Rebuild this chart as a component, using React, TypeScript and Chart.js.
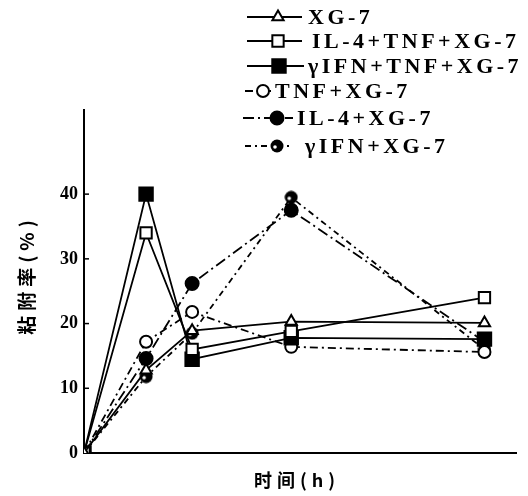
import React, { useEffect, useRef } from "react";
import { Chart, registerables } from "chart.js";
import { drawPoint } from "chart.js/helpers";

Chart.register(...registerables);

// Sampling times (h) and adhesion rates (%) for each treatment group
const hours = [0, 0.62, 1.08, 2.07, 4];
const seriesNames = [
  "XG-7",
  "IL-4+TNF+XG-7",
  "γIFN+TNF+XG-7",
  "TNF+XG-7",
  "IL-4+XG-7",
  "γIFN+XG-7",
];
const xg7 = [0, 12.8, 18.9, 20.3, 20.1];
const il4TnfXg7 = [0, 34, 16, 18.8, 24];
const ifnTnfXg7 = [0, 40, 14.5, 17.8, 17.6];
const tnfXg7 = [0, 17.2, 21.8, 16.4, 15.6];
const il4Xg7 = [0, 14.6, 26.2, 37.5, 17.2];
const ifnXg7 = [0, 11.8, 18.5, 39.5, 16];
const yTicks = [0, 10, 20, 30, 40];
const yMax = 53;
const xMax = 4.32;

const INK = "#000";

// Circle marker with a small white notch, used for the γIFN+XG-7 group
function makeNotchedDot(): HTMLCanvasElement {
  const c = document.createElement("canvas");
  c.width = 14;
  c.height = 14;
  const g = c.getContext("2d")!;
  g.fillStyle = INK;
  g.beginPath();
  g.arc(7, 7, 6.5, 0, Math.PI * 2);
  g.fill();
  g.fillStyle = "#fff";
  g.beginPath();
  g.arc(5, 8, 1.8, 0, Math.PI * 2);
  g.fill();
  return c;
}

const toPoints = (vals: number[]) => vals.map((v, i) => ({ x: hours[i], y: v }));

// Legend row geometry: sample line span, marker x, text x, row y
const legendRows = [
  { y: 17, x0: 247, x1: 302, mx: 278, tx: 308 },
  { y: 41, x0: 247, x1: 302, mx: 278, tx: 312 },
  { y: 66, x0: 247, x1: 304, mx: 279, tx: 308 },
  { y: 91, x0: 245, x1: 273, mx: 263, tx: 275 },
  { y: 118, x0: 243, x1: 293, mx: 277, tx: 297 },
  { y: 146, x0: 245, x1: 292, mx: 277, tx: 305 },
];

const decorPlugin = {
  id: "decor",
  afterDraw(chart: any) {
    const ctx = chart.ctx as CanvasRenderingContext2D;
    const yScale = chart.scales.y;
    const left = chart.chartArea.left;

    // inner tick marks on the y axis
    ctx.save();
    ctx.strokeStyle = INK;
    ctx.lineWidth = 1.5;
    yTicks.forEach((v) => {
      if (v === 0) return;
      const py = yScale.getPixelForValue(v);
      ctx.beginPath();
      ctx.moveTo(left, py);
      ctx.lineTo(left + 5, py);
      ctx.stroke();
    });
    ctx.restore();

    // axis titles
    ctx.save();
    ctx.fillStyle = INK;
    ctx.textAlign = "center";
    ctx.textBaseline = "middle";
    (ctx as any).letterSpacing = "5px";
    ctx.font = "bold 18px 'Noto Sans CJK SC'";
    ctx.fillText("时间(h)", 297, 480);
    ctx.translate(27, 277);
    ctx.rotate(-Math.PI / 2);
    ctx.font = "bold 19px 'Noto Sans CJK SC'";
    ctx.fillText("粘附率(%)", 2, 0);
    ctx.restore();

    // legend
    chart.data.datasets.forEach((ds: any, i: number) => {
      const r = legendRows[i];
      ctx.save();
      ctx.strokeStyle = INK;
      ctx.lineWidth = 2.2;
      ctx.setLineDash(ds.borderDash || []);
      ctx.beginPath();
      ctx.moveTo(r.x0, r.y);
      ctx.lineTo(r.x1, r.y);
      ctx.stroke();
      ctx.setLineDash([]);
      ctx.fillStyle = ds.pointBackgroundColor;
      ctx.strokeStyle = INK;
      ctx.lineWidth = ds.pointBorderWidth;
      drawPoint(
        ctx,
        {
          pointStyle: ds.pointStyle,
          radius: ds.pointRadius,
          rotation: 0,
          borderWidth: ds.pointBorderWidth,
        } as any,
        r.mx,
        r.y
      );
      ctx.fillStyle = INK;
      ctx.textAlign = "left";
      ctx.textBaseline = "middle";
      (ctx as any).letterSpacing = "3.5px";
      ctx.font = "bold 22px 'Liberation Serif'";
      ctx.fillText(ds.label, r.tx, r.y + 1);
      ctx.restore();
    });
  },
};

export default function App() {
  const ref = useRef<HTMLCanvasElement | null>(null);

  useEffect(() => {
    document.body.style.margin = "0";
    const notched = makeNotchedDot();
    const base = {
      borderColor: INK,
      borderWidth: 1.8,
      pointBorderColor: INK,
      pointBorderWidth: 2,
      tension: 0,
    };
    const chart = new Chart(ref.current!, {
      type: "line",
      data: {
        datasets: [
          {
            ...base,
            label: seriesNames[0],
            data: toPoints(xg7),
            pointStyle: "triangle",
            pointRadius: 6.5,
            pointBackgroundColor: "#fff",
            borderDash: [],
          },
          {
            ...base,
            label: seriesNames[1],
            data: toPoints(il4TnfXg7),
            pointStyle: "rect",
            pointRadius: 8,
            pointBackgroundColor: "#fff",
            borderDash: [],
          },
          {
            ...base,
            label: seriesNames[2],
            data: toPoints(ifnTnfXg7),
            pointStyle: "rect",
            pointRadius: 9.5,
            pointBackgroundColor: INK,
            borderDash: [],
          },
          {
            ...base,
            label: seriesNames[3],
            data: toPoints(tnfXg7),
            pointStyle: "circle",
            pointRadius: 6,
            pointBackgroundColor: "#fff",
            borderDash: [8, 4, 2, 4],
          },
          {
            ...base,
            label: seriesNames[4],
            data: toPoints(il4Xg7),
            pointStyle: "circle",
            pointRadius: 6.5,
            pointBackgroundColor: INK,
            borderDash: [11, 4, 2, 4],
          },
          {
            ...base,
            label: seriesNames[5],
            data: toPoints(ifnXg7),
            pointStyle: notched as any,
            pointRadius: 6.5,
            pointBackgroundColor: INK,
            borderDash: [6, 4, 2, 4],
          },
        ] as any,
      },
      options: {
        responsive: false,
        animation: false,
        layout: { padding: { top: 110, right: 5, left: 0, bottom: 0 } },
        plugins: { legend: { display: false }, tooltip: { enabled: false } },
        scales: {
          x: {
            type: "linear",
            min: 0,
            max: xMax,
            grid: { display: false, drawTicks: false },
            border: { display: true, color: INK, width: 2 },
            ticks: { display: false },
            afterFit: (s: any) => {
              s.height = 43;
            },
          },
          y: {
            type: "linear",
            min: 0,
            max: yMax,
            grid: { display: false, drawTicks: false },
            border: { display: true, color: INK, width: 2 },
            afterBuildTicks: (s: any) => {
              s.ticks = yTicks.map((v) => ({ value: v }));
            },
            ticks: {
              color: INK,
              padding: 6,
              font: { family: "'Liberation Serif'", weight: "bold", size: 18 },
            },
            afterFit: (s: any) => {
              s.width = 84;
            },
          },
        },
      },
      plugins: [decorPlugin],
    });
    return () => chart.destroy();
  }, []);

  return (
    <div style={{ width: 528, height: 496, background: "#fff" }}>
      <canvas ref={ref} width={528} height={496} style={{ width: 528, height: 496, display: "block" }} />
    </div>
  );
}
